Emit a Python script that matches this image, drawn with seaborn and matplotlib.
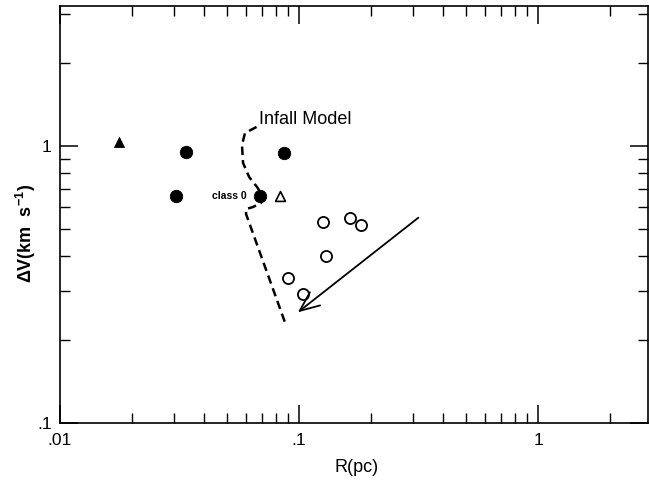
import numpy as np
import pandas as pd
import matplotlib
matplotlib.use("Agg")
import matplotlib.pyplot as plt
from matplotlib.ticker import LogLocator, FixedFormatter, FixedLocator, NullFormatter
import seaborn as sns

# ---- data ----
filled_circle_R = [0.0337, 0.0864, 0.0306, 0.0685]
filled_circle_V = [0.954, 0.946, 0.662, 0.660]

open_circle_R = [0.126, 0.163, 0.182, 0.130, 0.0895, 0.104]
open_circle_V = [0.530, 0.551, 0.518, 0.402, 0.333, 0.292]

filled_tri_R = [0.0177]
filled_tri_V = [1.036]

open_tri_R = [0.083]
open_tri_V = [0.662]

infall_R = [0.0664, 0.0594, 0.0577, 0.0583, 0.0618, 0.0667, 0.0700, 0.0693,
            0.0642, 0.0600, 0.0600, 0.0871]
infall_V = [1.171, 1.114, 1.008, 0.868, 0.773, 0.711, 0.665, 0.623,
            0.602, 0.592, 0.568, 0.232]

arrow_start = (0.3155, 0.551)
arrow_end = (0.0989, 0.251)

x_ticks = [0.01, 0.1, 1]
x_ticklabels = [".01", ".1", "1"]
y_ticks = [0.1, 1]
y_ticklabels = [".1", "1"]

# ---- style ----
sns.set_theme(style="ticks")
plt.rcParams["font.family"] = ["Liberation Sans", "DejaVu Sans"]
plt.rcParams["mathtext.fontset"] = "custom"
plt.rcParams["mathtext.rm"] = "Liberation Sans"
plt.rcParams["mathtext.bf"] = "Liberation Sans:bold"
plt.rcParams["text.color"] = "black"
plt.rcParams["axes.labelcolor"] = "black"
plt.rcParams["xtick.color"] = "black"
plt.rcParams["ytick.color"] = "black"
plt.rcParams["xtick.labelcolor"] = "black"
plt.rcParams["ytick.labelcolor"] = "black"

W, H = 649, 480
fig = plt.figure(figsize=(W / 100, H / 100), dpi=100)
L, R_, T, B = 60, 648, 6, 423
ax = fig.add_axes([L / W, 1 - B / H, (R_ - L) / W, (B - T) / H])
ax.set_facecolor("white")

ax.set_xscale("log")
ax.set_yscale("log")
ax.set_xlim(0.01, 2.88)
ax.set_ylim(0.1, 3.2)

# infall model dashed curve
infall_df = pd.DataFrame({"R": infall_R, "V": infall_V})
sns.lineplot(data=infall_df, x="R", y="V", sort=False, estimator=None, ax=ax,
             color="black", lw=1.8, linestyle=(0, (3.4, 2.0)), zorder=2)

fc = pd.DataFrame({"R": filled_circle_R, "V": filled_circle_V})
sns.scatterplot(data=fc, x="R", y="V", marker="o", s=80, color="black",
                edgecolor="black", linewidth=0.6, ax=ax, zorder=3)

oc = pd.DataFrame({"R": open_circle_R, "V": open_circle_V})
sns.scatterplot(data=oc, x="R", y="V", marker="o", s=64, facecolor="white",
                edgecolor="black", linewidth=1.3, ax=ax, zorder=3)

ft = pd.DataFrame({"R": filled_tri_R, "V": filled_tri_V})
sns.scatterplot(data=ft, x="R", y="V", marker="^", s=52, color="black",
                edgecolor="black", linewidth=0.6, ax=ax, zorder=3)

ot = pd.DataFrame({"R": open_tri_R, "V": open_tri_V})
sns.scatterplot(data=ot, x="R", y="V", marker="^", s=50, facecolor="white",
                edgecolor="black", linewidth=1.2, ax=ax, zorder=3)

# arrow
ax.annotate("", xy=arrow_end, xytext=arrow_start,
            arrowprops=dict(arrowstyle="->,head_length=0.7,head_width=0.3",
                            color="black", lw=1.3, mutation_scale=20,
                            shrinkA=0, shrinkB=0))

# annotations
ax.text(0.0680, 1.241, "Infall Model", fontsize=13, ha="left", va="center",
        color="black")
ax.text(0.0606, 0.660, "class 0", fontsize=7.5, fontweight="bold",
        ha="right", va="center", color="black")

# ticks
ax.xaxis.set_major_locator(FixedLocator(x_ticks))
ax.xaxis.set_major_formatter(FixedFormatter(x_ticklabels))
ax.yaxis.set_major_locator(FixedLocator(y_ticks))
ax.yaxis.set_major_formatter(FixedFormatter(y_ticklabels))
ax.xaxis.set_minor_locator(LogLocator(base=10, subs=np.arange(2, 10)))
ax.yaxis.set_minor_locator(LogLocator(base=10, subs=np.arange(2, 10)))
ax.xaxis.set_minor_formatter(NullFormatter())
ax.yaxis.set_minor_formatter(NullFormatter())

ax.tick_params(which="both", direction="in", top=True, right=True,
               colors="black", labelcolor="black", labelsize=12.5)
ax.tick_params(which="major", length=13, width=1.1)
ax.tick_params(which="minor", length=7, width=1.0)
ax.tick_params(axis="x", pad=7)
ax.tick_params(axis="y", pad=6)

for sp in ax.spines.values():
    sp.set_visible(True)
    sp.set_color("black")
    sp.set_linewidth(1.2)

ax.set_xlabel("R(pc)", fontsize=13, va="center", color="black")
ax.set_ylabel(r"ΔV(km  s$^{\mathbf{-1}}$)", fontsize=13, fontweight="bold",
              va="center", color="black")
ax.xaxis.set_label_coords((357 - L) / (R_ - L), (B - 468) / (B - T))
ax.yaxis.set_label_coords((26 - L) / (R_ - L), (B - 233) / (B - T))

fig.savefig("out.png", dpi=100, facecolor="white")
